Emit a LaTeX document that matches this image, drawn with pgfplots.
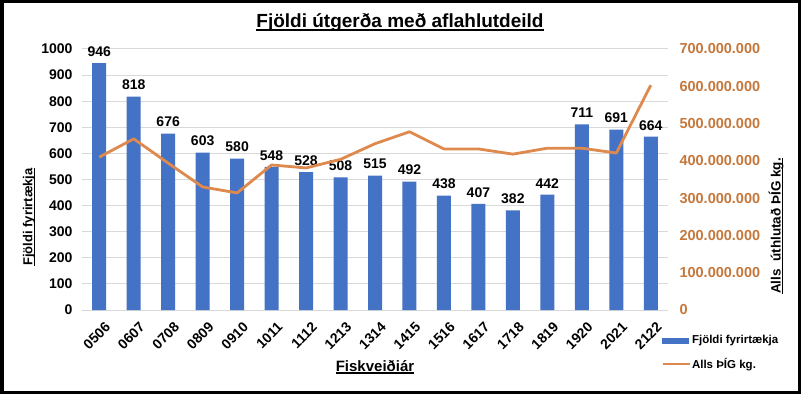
\documentclass[border=0pt]{standalone}
\usepackage{pgfplots}
\pgfplotsset{compat=1.18}
\usepackage{fontspec}
\setmainfont{Liberation Sans}
\definecolor{barblue}{HTML}{4472C4}
\definecolor{lineorange}{RGB}{222,137,77}
\definecolor{ticko}{RGB}{197,120,60}
\definecolor{gridgray}{RGB}{217,217,217}
\newcommand\UL[3]{\leavevmode\setbox0\hbox{#1}\rlap{\rule[-#2]{\wd0}{#3}}\box0}
\begin{document}
\begin{tikzpicture}[x=1pt,y=1pt]
\useasboundingbox (0,0) rectangle (801,394);
\fill[white] (0,0) rectangle (801,394);
\begin{axis}[
  at={(82pt,84pt)}, anchor=south west,
  scale only axis, width=586pt, height=261pt,
  xmin=-0.5, xmax=16.5, ymin=0, ymax=1000,
  ybar, bar width=14pt,
  xtick={0,...,16},
  xticklabels={0506,0607,0708,0809,0910,1011,1112,1213,1314,1415,1516,1617,1718,1819,1920,2021,2122},
  ytick={0,100,200,300,400,500,600,700,800,900,1000},
  axis x line*=bottom, axis y line*=left,
  x axis line style={draw=gridgray, line width=1pt, -},
  y axis line style={draw=none},
  major tick length=0pt,
  ymajorgrids, grid style={gridgray, line width=1pt},
  tick label style={font=\fontsize{14}{16}\selectfont\bfseries},
  xticklabel style={xshift=5pt, yshift=-11pt, rotate=45, anchor=north east, inner sep=0pt},
  yticklabel style={xshift=-6pt},
  /pgf/number format/assume math mode=true,
  /pgf/number format/1000 sep={},
  nodes near coords,
  nodes near coords style={font=\fontsize{14}{16}\selectfont\bfseries, text=black, yshift=3pt},
  clip=false,
]
\addplot[fill=barblue, draw=none] coordinates {
(0,946) (1,818) (2,676) (3,603) (4,580) (5,548) (6,528) (7,508) (8,515)
(9,492) (10,438) (11,407) (12,382) (13,442) (14,711) (15,691) (16,664)};
\end{axis}
\begin{axis}[
  at={(82pt,84pt)}, anchor=south west,
  scale only axis, width=586pt, height=261pt,
  xmin=-0.5, xmax=16.5, ymin=0, ymax=700000000,
  axis x line=none, axis y line*=right,
  y axis line style={draw=none},
  major tick length=0pt,
  scaled y ticks=false,
  ytick={0,100000000,200000000,300000000,400000000,500000000,600000000,700000000},
  yticklabels={0,100.000.000,200.000.000,300.000.000,400.000.000,500.000.000,600.000.000,700.000.000},
  yticklabel style={font=\fontsize{14.5}{16}\selectfont\bfseries, text=ticko, xshift=8pt},
  legend style={at={(0.983,-0.085)}, anchor=north west, draw=none, fill=none,
    font=\fontsize{11.5}{13}\selectfont\bfseries, row sep=11pt,
    nodes={inner sep=1pt}},
  legend cell align=left,
]
\addlegendimage{legend image code/.code={\fill[barblue] (0pt,-2.5pt) rectangle (26pt,2.5pt);}}
\addlegendentry{Fjöldi fyrirtækja}
\addplot[lineorange, line width=2.8pt, mark=none, line join=round,
  legend image code/.code={\draw[lineorange, line width=2.8pt] (0pt,0pt) -- (27pt,0pt);}]
  coordinates {
(0,410000000) (1,459000000) (2,394000000) (3,330000000) (4,314000000)
(5,389000000) (6,381000000) (7,404000000) (8,446000000) (9,478000000)
(10,432000000) (11,432000000) (12,418000000) (13,434000000) (14,434000000)
(15,421000000) (16,603000000)};
\addlegendentry{Alls ÞÍG kg.}
\end{axis}
\node[font=\fontsize{19}{22}\selectfont\bfseries, anchor=base] at (400,366) {\UL{Fjöldi útgerða með aflahlutdeild}{3pt}{1.6pt}};
\node[font=\fontsize{15}{18}\selectfont\bfseries] at (375,27) {\UL{Fiskveiðiár}{2.5pt}{1.4pt}};
\node[font=\fontsize{13}{16}\selectfont\bfseries, rotate=90] at (29,177) {\UL{Fjöldi fyrirtækja}{2.5pt}{1.3pt}};
\node[font=\fontsize{13.5}{16}\selectfont\bfseries, rotate=90] at (776,168) {\UL{Alls\ \ úthlutað ÞÍG kg.}{2.5pt}{1.3pt}};
\draw[line width=3.5pt] (1.75,1.75) rectangle (799.25,392.25);
\end{tikzpicture}
\end{document}
